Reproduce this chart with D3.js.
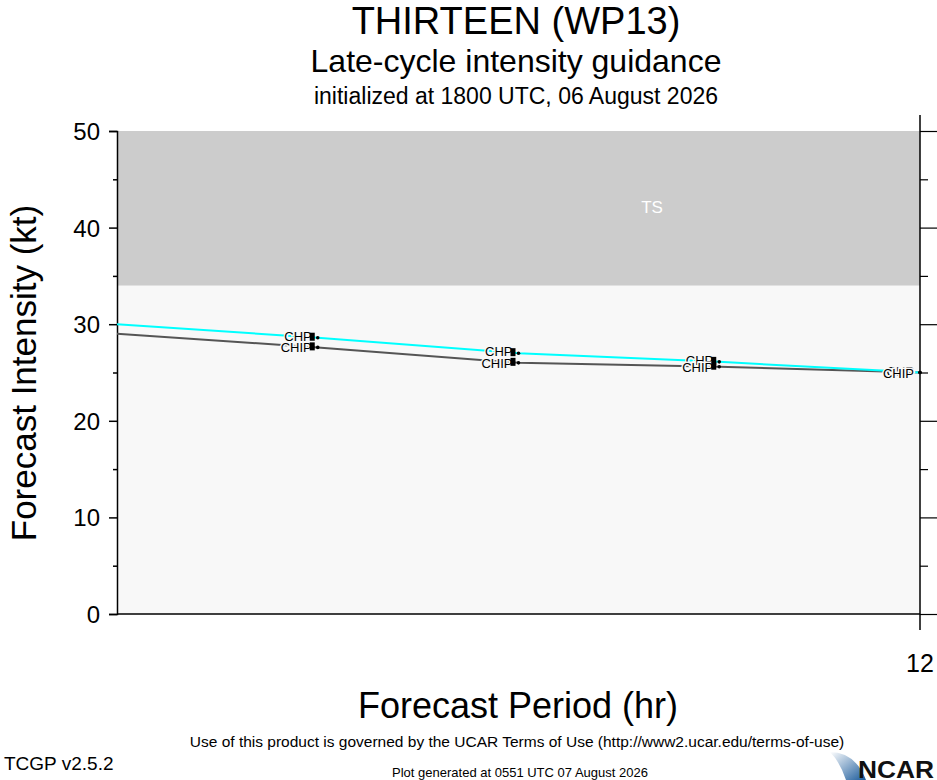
<!DOCTYPE html><html><head><meta charset="utf-8"><script src="https://cdn.jsdelivr.net/npm/d3@7"></script>
<style>body{margin:0;background:#fff}text{font-family:"Liberation Sans",Arial,sans-serif}</style></head><body>
<svg id="c" width="937" height="780"></svg>
<script>
const hours=[0,3,6,9,12];
const chp=[30,28.6,27.0,26.1,25.0];
const chip=[29,27.6,26.0,25.6,25.0];
const xTicks=[12];
const svg=d3.select("#c");
const x=d3.scaleLinear().domain([0,12]).range([117,920]);
const y=d3.scaleLinear().domain([0,50]).range([614,131]);
svg.append("rect").attr("x",x(0)).attr("y",y(34)).attr("width",x(12)-x(0)).attr("height",y(0)-y(34)).attr("fill","#f8f8f8");
svg.append("rect").attr("x",x(0)).attr("y",y(50)).attr("width",x(12)-x(0)).attr("height",y(34)-y(50)).attr("fill","#cccccc");
svg.append("text").attr("x",652).attr("y",y(41.5)).attr("fill","#fff").attr("font-size",17).attr("text-anchor","middle").text("TS");
const yl=d3.axisLeft(y).tickValues(d3.range(0,51,5)).tickSize(8).tickFormat(d=>d%10===0?d:"");
const gl=svg.append("g").attr("transform",`translate(${x(0)},0)`).call(yl);
gl.selectAll(".tick line").attr("x2",d=>d%10===0?-8:-4).attr("stroke-width",1.5);
gl.selectAll("text").attr("font-size",24).attr("dx",-6).attr("dy","0.35em").attr("font-family","Liberation Sans");
gl.select(".domain").attr("stroke-width",1.5);
const yr=d3.axisRight(y).tickValues(d3.range(0,51,5)).tickSize(8).tickFormat("");
const gr=svg.append("g").attr("transform",`translate(${x(12)},0)`).call(yr);
gr.selectAll(".tick line").attr("x2",d=>d%10===0?17:8).attr("stroke-width",1.2);
gr.select(".domain").remove();
svg.append("line").attr("x1",x(12)).attr("x2",x(12)).attr("y1",115).attr("y2",630).attr("stroke","#000").attr("stroke-width",1.5);
svg.append("line").attr("x1",x(0)).attr("x2",x(12)).attr("y1",y(0)).attr("y2",y(0)).attr("stroke","#000").attr("stroke-width",1.5);
xTicks.forEach(t=>svg.append("text").attr("x",x(t)).attr("y",672).attr("font-size",25).attr("text-anchor","middle").text(t));
const ln=d3.line().x((d,i)=>x(hours[i])).y(d=>y(d));
svg.append("path").datum(chip).attr("d",ln).attr("fill","none").attr("stroke","#555").attr("stroke-width",2);
svg.append("path").datum(chp).attr("d",ln).attr("fill","none").attr("stroke","#00ffff").attr("stroke-width",2);
function labels(arr,name,dy){
 arr.forEach((v,i)=>{ if(i===0) return;
  const px=x(hours[i]),py=y(v);
  svg.append("text").attr("x",px-(i===4?6:6)).attr("y",py+5+dy).attr("font-size",13).attr("text-anchor","end")
   .attr("stroke","#f8f8f8").attr("stroke-width",3).attr("paint-order","stroke").text(name);
  if(i<4) svg.append("rect").attr("x",px-8).attr("y",py-5).attr("width",5).attr("height",8).attr("fill","#000");
  svg.append("circle").attr("cx",px).attr("cy",py).attr("r",1.8).attr("fill","#000");
 });
}
labels(chp,"CHP",-2);
labels(chip,"CHIP",0);
const T=(t,yy,s,a="middle",xx=468.5)=>svg.append("text").attr("x",xx).attr("y",yy).attr("font-size",s).attr("text-anchor",a).text(t);
T("THIRTEEN (WP13)",34,38,"middle",516);
T("Late-cycle intensity guidance",72,32,"middle",516);
T("initialized at 1800 UTC, 06 August 2026",104,23,"middle",516);
T("Forecast Period (hr)",718,36,"middle",518);
svg.append("text").attr("transform","translate(36,373) rotate(-90)").attr("font-size",35).attr("text-anchor","middle").text("Forecast Intensity (kt)");
T("Use of this product is governed by the UCAR Terms of Use (http://www2.ucar.edu/terms-of-use)",747,15.5,"middle",517);
T("TCGP v2.5.2",770,19,"start",4);
T("Plot generated at 0551 UTC   07 August 2026",777,13,"middle",520);
const gd=svg.append("defs").append("linearGradient").attr("id","g").attr("x1",0).attr("y1",0).attr("x2",1).attr("y2",1);
gd.append("stop").attr("offset","0").attr("stop-color","#fff");gd.append("stop").attr("offset","1").attr("stop-color","#1a5a9a");
svg.append("path").attr("d","M830,752 Q855,752 866,780 L846,780 Q840,762 830,752Z").attr("fill","url(#g)");
svg.append("text").attr("x",858).attr("y",778).attr("font-size",24).attr("font-weight","bold").attr("fill","#111").attr("textLength",76).attr("lengthAdjust","spacingAndGlyphs").text("NCAR");
</script></body></html>
